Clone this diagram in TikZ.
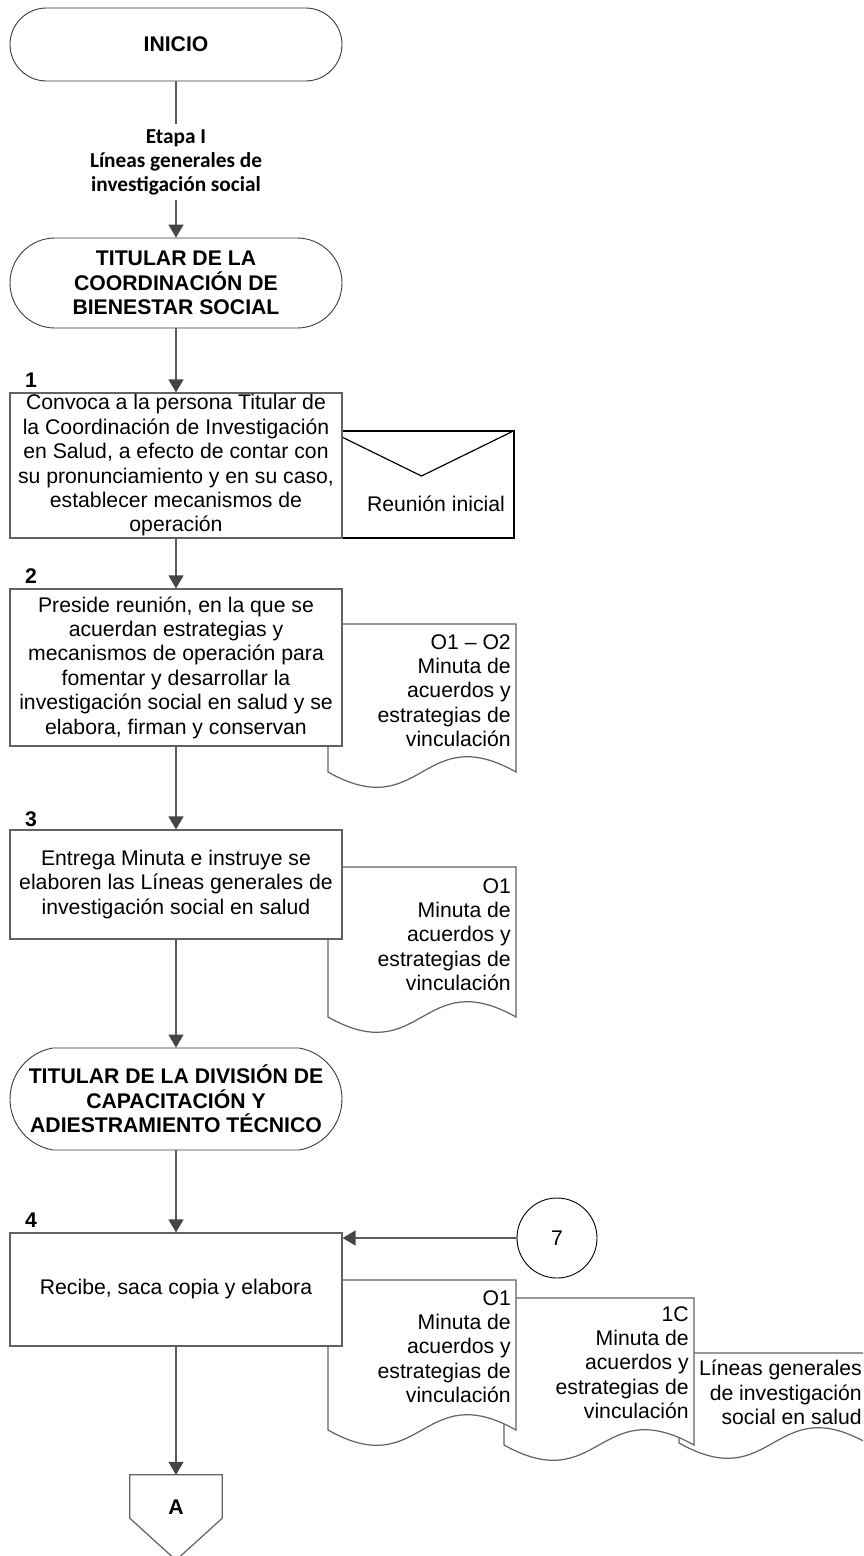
\documentclass[tikz,border=0pt]{standalone}
\usepackage{fontspec}
\setmainfont{Liberation Sans}
\newfontfamily\etapafont{Carlito}
\usetikzlibrary{arrows.meta,shapes.misc,calc}

\definecolor{boxline}{HTML}{626262}
\definecolor{termline}{HTML}{3C3C3C}
\definecolor{connline}{HTML}{5C5C5C}
\definecolor{tipcol}{HTML}{454545}

% document symbol: left, right, top, baseline of the wavy bottom edge
\newcommand{\docshape}[4]{%
  \filldraw[docline] (#1,#3) -- (#2,#3) -- (#2,#4)
    .. controls ({(#1+#2)/2},{#4-53}) and ({(#1+#2)/2},{#4+53}) .. (#1,#4) -- cycle;}

\begin{document}
\begin{tikzpicture}[x=1pt,y=-1pt,
  basefont/.style={font=\fontsize{21.2pt}{24.4pt}\selectfont},
  term/.style={rounded rectangle, draw=termline, line width=0.9pt, fill=white,
    align=center, inner sep=0pt, font=\fontsize{21.2pt}{24.4pt}\selectfont\bfseries},
  stepbox/.style={rectangle, draw=boxline, line width=1.2pt, fill=white,
    align=center, inner sep=0pt, basefont},
  stepnum/.style={inner sep=0pt, font=\fontsize{21.2pt}{24.4pt}\selectfont\bfseries},
  doctext/.style={align=right, inner sep=0pt, anchor=north east, basefont},
  docline/.style={draw=boxline, line width=1.2pt, fill=white},
  conn/.style={draw=connline, line width=1.5pt},
  flow/.style={conn, -{Triangle[width=15pt,length=13pt,color=tipcol]}}
]
\useasboundingbox (0,0) rectangle (863,1556);
\clip (0,0) rectangle (863,1556);
\fill[white] (0,0) rectangle (863,1556);

% terminators and stage label
\node[term, minimum width=332pt, minimum height=73pt] (inicio) at (176,44.5) {INICIO};
\node[inner sep=0pt, inner ysep=5.5pt, align=center,
  font=\fontsize{21.3pt}{24pt}\selectfont\etapafont\bfseries] (etapa) at (176,162)
  {Etapa I\\Líneas generales de\\investigación social};
\node[term, minimum width=332pt, minimum height=90pt] (t2) at (176,283)
  {TITULAR DE LA\\COORDINACIÓN DE\\BIENESTAR SOCIAL};

% envelope behind step 1
\node[draw=black, line width=1.2pt, fill=white, minimum width=185pt,
  minimum height=107pt, inner sep=0pt] (env) at (421.5,484.5) {};
\draw[black, line width=1.2pt] (env.north west) -- ($(env.center)+(0,-8.5)$) -- (env.north east);
\node[basefont, inner sep=0pt] (envtxt) at (436,504) {Reunión inicial};

% documents
\docshape{328}{516}{624}{772}
\node[doctext] (d2t) at (511,634) {O1 – O2\\Minuta de\\acuerdos y\\estrategias de\\vinculación};
\docshape{328}{516}{867}{1017}
\node[doctext] (d3t) at (511,878) {O1\\Minuta de\\acuerdos y\\estrategias de\\vinculación};
\docshape{679}{867}{1353}{1443}
\node[doctext] (d4ct) at (862,1360) {Líneas generales\\de investigación\\social en salud};
\docshape{504}{694}{1298}{1445}
\node[doctext] (d4bt) at (689,1306) {1C\\Minuta de\\acuerdos y\\estrategias de\\vinculación};
\docshape{328}{516}{1280}{1430}
\node[doctext] (d4at) at (511,1290) {O1\\Minuta de\\acuerdos y\\estrategias de\\vinculación};

% process steps
\node[stepnum] (n1) at (31,380) {1};
\node[stepbox, minimum width=332pt, minimum height=145pt] (b1) at (176,465.5)
  {Convoca a la persona Titular de\\la Coordinación de Investigación\\en Salud, a efecto de contar con\\su pronunciamiento y en su caso,\\establecer mecanismos de\\operación};
\node[stepnum] (n2) at (31,576) {2};
\node[stepbox, minimum width=332pt, minimum height=157pt] (b2) at (176,667.5)
  {Preside reunión, en la que se\\acuerdan estrategias y\\mecanismos de operación para\\fomentar y desarrollar la\\investigación social en salud y se\\elabora, firman y conservan};
\node[stepnum] (n3) at (31,819) {3};
\node[stepbox, minimum width=332pt, minimum height=109pt] (b3) at (176,884.5)
  {Entrega Minuta e instruye se\\elaboren las Líneas generales de\\investigación social en salud};
\node[term, minimum width=332pt, minimum height=102pt, rounded rectangle arc length=160] (t3) at (176,1099)
  {TITULAR DE LA DIVISIÓN DE\\CAPACITACIÓN Y\\ADIESTRAMIENTO TÉCNICO};
\node[stepnum] (n4) at (31,1220) {4};
\node[stepbox, minimum width=332pt, minimum height=113pt] (b4) at (176,1289.5)
  {Recibe, saca copia y elabora};

% connector circle
\node[circle, draw=black, line width=0.9pt, minimum size=80pt, inner sep=0pt, basefont] (c7) at (557,1238) {7};

% off-page connector
\node[minimum width=92pt, minimum height=43pt, inner sep=0pt] (offA) at (176,1496.5) {};
\draw[boxline, line width=1.2pt, fill=white] (offA.north west) -- (offA.north east) -- (offA.south east)
  -- ($(offA.south)+(0,42)$) -- (offA.south west) -- cycle;
\node[stepnum] (offAtxt) at (176,1507) {A};

% flow lines
\draw[conn] (inicio.south) -- (etapa.north);
\draw[flow] (etapa.south) -- (t2.north);
\draw[flow] (t2.south) -- (b1.north);
\draw[flow] (b1.south) -- (b2.north);
\draw[flow] (b2.south) -- (b3.north);
\draw[flow] (b3.south) -- (t3.north);
\draw[flow] (t3.south) -- (b4.north);
\draw[flow] (b4.south) -- (offA.north);
\draw[flow] (c7.west) -- (c7.west -| b4.east);
\end{tikzpicture}
\end{document}
